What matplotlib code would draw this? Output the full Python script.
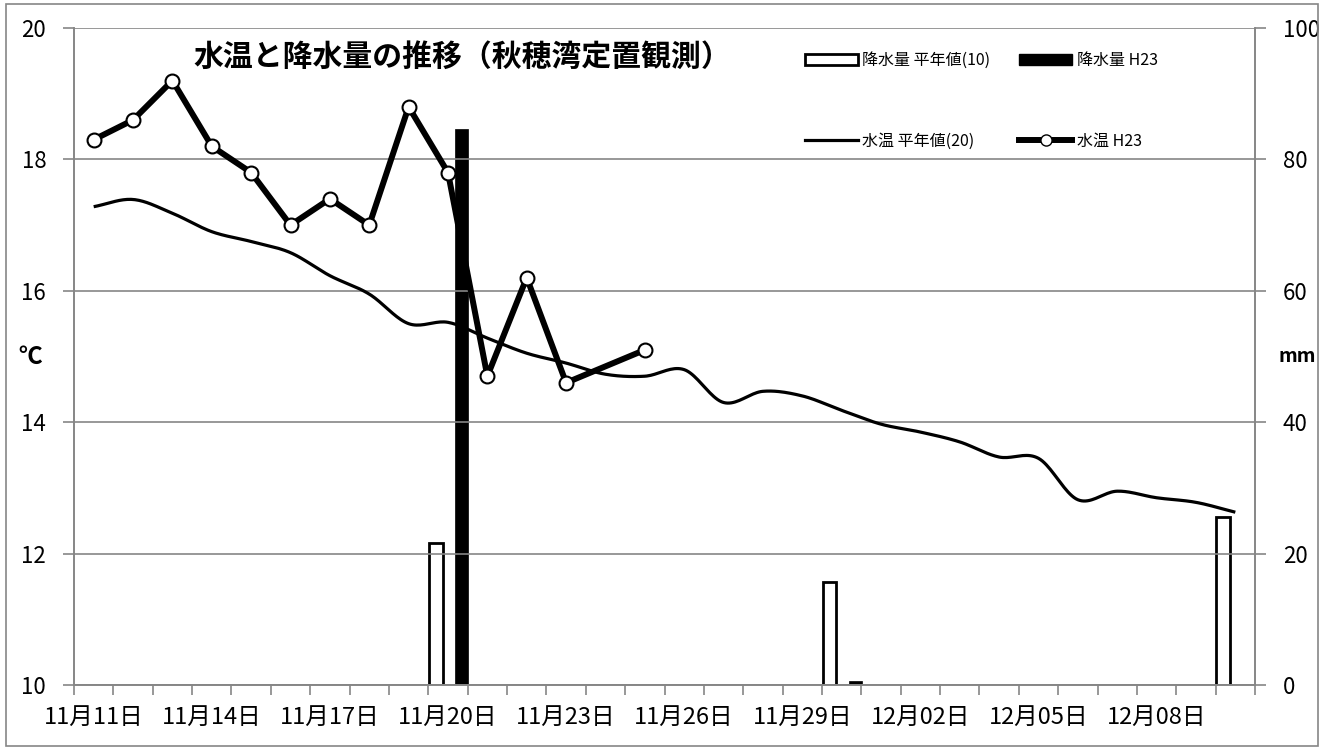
import numpy as np
import pandas as pd
import matplotlib
matplotlib.use('Agg')
import matplotlib.pyplot as plt
from matplotlib.patches import Patch, Rectangle
from matplotlib.lines import Line2D

plt.rcParams['font.family'] = ['Noto Sans CJK JP', 'DejaVu Sans']

# 日付 (11/11 - 12/10)
days = pd.date_range('2011-11-11', periods=30)
day_labels = [f'{d.month}月{d.day:02d}日' for d in days]

# 水温 平年値(20) ℃
temp_normal = [17.28, 17.39, 17.18, 16.90, 16.75, 16.58, 16.23, 15.95, 15.50, 15.52,
               15.28, 15.05, 14.90, 14.73, 14.70, 14.80, 14.30, 14.47, 14.40, 14.18,
               13.97, 13.85, 13.70, 13.47, 13.45, 12.82, 12.95, 12.85, 12.78, 12.63]
# 水温 H23 ℃ (11/24 欠測)
temp_h23 = [18.3, 18.6, 19.2, 18.2, 17.8, 17.0, 17.4, 17.0, 18.8, 17.8,
            14.7, 16.2, 14.6, np.nan, 15.1] + [np.nan] * 15
# 降水量 mm
rain_normal = [0] * 9 + [21.6] + [0] * 9 + [15.7] + [0] * 9 + [25.5]
rain_h23 = [0] * 9 + [84.6] + [0] * 9 + [0.6] + [0] * 10

grey = '#868686'


def smooth(y, n=20):
    # Excel風の平滑線 (Catmull-Rom)
    y = np.asarray(y, float)
    x = np.arange(len(y), dtype=float)
    px = np.concatenate([[2 * x[0] - x[1]], x, [2 * x[-1] - x[-2]]])
    py = np.concatenate([[2 * y[0] - y[1]], y, [2 * y[-1] - y[-2]]])
    xs, ys = [], []
    t = np.linspace(0, 1, n, endpoint=False)
    for i in range(1, len(px) - 2):
        for p, out in ((px, xs), (py, ys)):
            p0, p1, p2, p3 = p[i - 1], p[i], p[i + 1], p[i + 2]
            out.extend(0.5 * (2 * p1 + (-p0 + p2) * t + (2 * p0 - 5 * p1 + 4 * p2 - p3) * t ** 2
                              + (-p0 + 3 * p1 - 3 * p2 + p3) * t ** 3))
    xs.append(x[-1])
    ys.append(y[-1])
    return np.array(xs), np.array(ys)


fig = plt.figure(figsize=(13.25, 7.52), dpi=100)
ax = fig.add_axes([74 / 1325, 1 - 685 / 752, (1255 - 74) / 1325, (685 - 28) / 752])
ax2 = ax.twinx()

idx = np.arange(len(days))
rn = np.array(rain_normal, float)
rh = np.array(rain_h23, float)
m1 = rn > 0
m2 = rh > 0
ax2.bar(idx[m1] - 0.31, rn[m1], width=0.35, color='white', edgecolor='black', linewidth=2)
ax2.bar(idx[m2] + 0.34, rh[m2], width=0.33, color='black', edgecolor='black', linewidth=0.5)
ax2.set_ylim(0, 100)
ax2.set_yticks(np.arange(0, 101, 20))

sx, sy = smooth(temp_normal)
ax.plot(sx, sy, color='black', linewidth=2.3, solid_capstyle='butt')
th = np.array(temp_h23, float)
ok = ~np.isnan(th)
ax.plot(idx[ok], th[ok], color='black', linewidth=4.3, marker='o', markersize=10,
        markerfacecolor='white', markeredgecolor='black', markeredgewidth=1.5)

ax.set_zorder(ax2.get_zorder() + 1)
ax.patch.set_visible(False)

ax.set_xlim(-0.5, len(days) - 0.5)
ax.set_ylim(10, 20)
ax.set_yticks(np.arange(10, 21, 2))
ax.grid(axis='y', color=grey, linewidth=1.2)
ax2.grid(False)

ax.set_xticks(np.arange(-0.5, len(days), 1.0))
ax.set_xticklabels([])
ax.set_xticks(idx[::3], minor=True)
ax.set_xticklabels(day_labels[::3], minor=True, fontsize=17)
ax.tick_params(axis='x', which='major', length=7, color=grey, width=1.2, direction='out')
ax.tick_params(axis='x', which='minor', length=0, pad=15)
ax.tick_params(axis='y', length=8, color=grey, width=1.2, labelsize=16, pad=12)
ax2.tick_params(axis='y', length=8, color=grey, width=1.2, labelsize=16, pad=12)

for a in (ax, ax2):
    for s in a.spines.values():
        s.set_color(grey)
        s.set_linewidth(1.2)
    a.spines['top'].set_visible(False)

fig.text(30 / 1325, 1 - 357 / 752, '℃', fontsize=17, fontweight='bold', ha='center', va='center')
fig.text(1297 / 1325, 1 - 357 / 752, 'mm', fontsize=14, fontweight='bold', ha='center', va='center')

fig.text(462 / 1325, 1 - 57 / 752, '水温と降水量の推移（秋穂湾定置観測）', fontsize=21.5,
         fontweight='bold', ha='center', va='center')

handles = [Patch(facecolor='white', edgecolor='black', linewidth=2),
           Line2D([], [], color='black', linewidth=2.3),
           Patch(facecolor='black', edgecolor='black'),
           Line2D([], [], color='black', linewidth=4.3, marker='o', markersize=8,
                  markerfacecolor='white', markeredgecolor='black')]
labels = ['降水量 平年値(10)', '水温 平年値(20)', '降水量 H23', '水温 H23']
fig.legend(handles, labels, ncol=2, loc='upper left', bbox_to_anchor=(805 / 1325, 1 - 52 / 752),
           frameon=False, fontsize=11.5, handlelength=3.3, handleheight=0.7, handletextpad=0.3,
           columnspacing=1.8, labelspacing=4.0, borderpad=0, borderaxespad=0)

fig.patches.append(Rectangle((6 / 1325, 6 / 752), 1312 / 1325, 742 / 752, transform=fig.transFigure,
                             fill=False, edgecolor=grey, linewidth=1.2))

fig.savefig('out.png', dpi=100)
